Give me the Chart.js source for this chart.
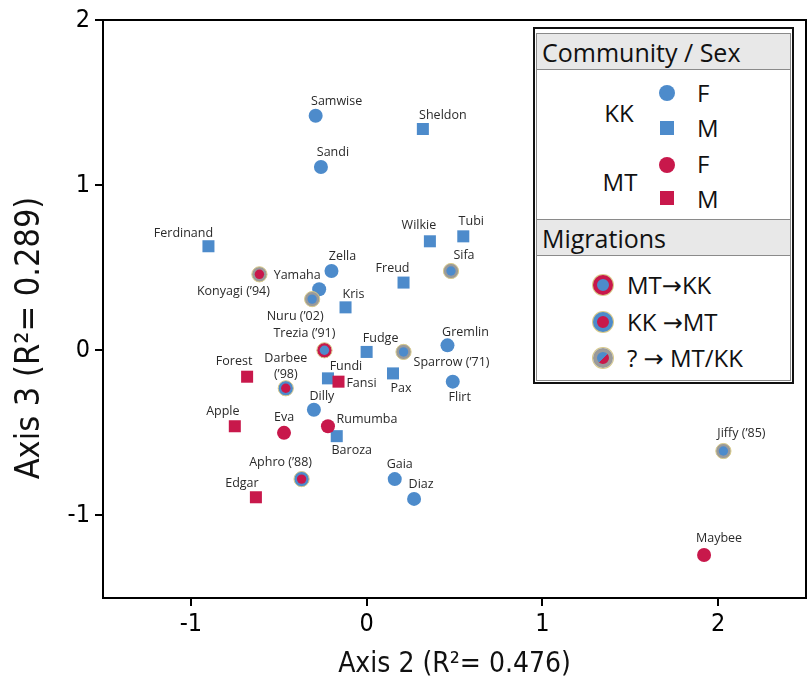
<!DOCTYPE html>
<html>
<head>
<meta charset="utf-8">
<script src="https://cdn.jsdelivr.net/npm/chart.js@4.4.1/dist/chart.umd.min.js"></script>
<style>
  html, body { margin: 0; padding: 0; background: #fff; }
  #wrap { position: relative; width: 808px; height: 689px; overflow: hidden; }
  #chart { position: absolute; left: 0; top: 0; }
  .lg { position: absolute; font-family: 'Open Sans', sans-serif; color: #111; white-space: nowrap; }
  .arr { font-family: 'DejaVu Sans', sans-serif; }
</style>
</head>
<body>
<div id="wrap">
  <canvas id="chart" width="808" height="689"></canvas>
  <div id="legend"></div>
</div>
<script>
// chimp individuals, positions on axis 2 / axis 3
const names = ["Samwise", "Sheldon", "Sandi", "Ferdinand", "Wilkie", "Tubi", "Sifa", "Zella",
  "Konyagi (’94)", "Yamaha", "Freud", "Nuru (’02)", "Kris", "Trezia (’91)", "Fudge", "Sparrow (’71)",
  "Gremlin", "Forest", "Darbee\n(’98)", "Fundi", "Fansi", "Pax", "Flirt", "Dilly", "Apple", "Eva",
  "Rumumba", "Baroza", "Aphro (’88)", "Gaia", "Diaz", "Edgar", "Jiffy (’85)", "Maybee"];
const axis2 = [-0.29, 0.32, -0.26, -0.90, 0.36, 0.55, 0.48, -0.20,
  -0.61, -0.27, 0.21, -0.31, -0.12, -0.24, 0.0, 0.21,
  0.46, -0.68, -0.46, -0.22, -0.16, 0.15, 0.49, -0.30, -0.75, -0.47,
  -0.22, -0.17, -0.37, 0.16, 0.27, -0.63, 2.03, 1.92];
const axis3 = [1.42, 1.34, 1.11, 0.63, 0.66, 0.69, 0.48, 0.48,
  0.46, 0.37, 0.41, 0.31, 0.26, 0.0, -0.01, -0.01,
  0.03, -0.16, -0.23, -0.17, -0.19, -0.14, -0.19, -0.36, -0.46, -0.50,
  -0.46, -0.52, -0.78, -0.78, -0.90, -0.89, -0.61, -1.24];
const community = ["KK", "KK", "KK", "KK", "KK", "KK", "KK", "KK",
  "MT", "KK", "KK", "KK", "KK", "KK", "KK", "KK",
  "KK", "MT", "MT", "KK", "MT", "KK", "KK", "KK", "MT", "MT",
  "MT", "KK", "MT", "KK", "KK", "MT", "KK", "MT"];
const sex = ["F", "M", "F", "M", "M", "M", "F", "F",
  "F", "F", "M", "F", "M", "F", "M", "F",
  "F", "M", "F", "M", "M", "M", "F", "F", "M", "F",
  "F", "M", "F", "F", "F", "M", "F", "F"];
const migration = ["", "", "", "", "", "", "?", "",
  "?", "", "", "?", "", "MT>KK", "", "?",
  "", "", "KK>MT", "", "", "", "", "", "", "",
  "", "", "KK>MT", "", "", "", "?", ""];

const xTicks = [-1, 0, 1, 2];
const yTicks = [-1, 0, 1, 2];
const xTitle = "Axis 2 (R²= 0.476)";
const yTitle = "Axis 3 (R²= 0.289)";

// label offsets from the point, px
const labelOffset = [[21, -14], [20, -14], [12, -15], [-25, -13], [-11, -16], [8, -15], [13, -16], [11, -15],
  [-26, 17], [-22, -14], [-11, -14], [-17, 17], [8, -13], [-20, -17], [14, -13], [48, 11],
  [18, -13], [-13, -15], [0, -22], [18, -12], [23, 2], [8, 15], [7, 16], [8, -13], [-12, -15], [0, -15],
  [39, -7], [15, 14], [-21, -17], [5, -15], [7, -14], [-14, -14], [18, -18], [15, -17]];

const BLUE = "#4d8bcb";
const RED = "#c8184b";
const GRAY = "#9a9a9a";
const RIM = "#d8ca8a";
const colorOf = { KK: BLUE, MT: RED };
const ringOf = { "MT>KK": RED, "KK>MT": BLUE, "?": GRAY };

const tickFont = "'Liberation Sans Narrow', 'DejaVu Sans Condensed', Roboto, sans-serif";

function pick(test) {
  const out = [];
  for (let i = 0; i < names.length; i++) {
    if (test(i)) out.push({ x: axis2[i], y: axis3[i] });
  }
  return out;
}

const migrants = [];
for (let i = 0; i < names.length; i++) if (migration[i]) migrants.push(i);

const datasets = [
  {
    label: "centre",
    data: migrants.map(i => ({ x: axis2[i], y: axis3[i] })),
    pointRadius: 4.7,
    pointBackgroundColor: migrants.map(i => colorOf[community[i]]),
    pointBorderWidth: 0
  },
  {
    label: "ring",
    data: migrants.map(i => ({ x: axis2[i], y: axis3[i] })),
    pointRadius: 7.6,
    pointBackgroundColor: migrants.map(i => ringOf[migration[i]]),
    pointBorderColor: RIM,
    pointBorderWidth: 1
  }
];
["MT", "KK"].forEach(c => {
  datasets.push({
    label: c + " M",
    data: pick(i => !migration[i] && community[i] === c && sex[i] === "M"),
    pointStyle: "rect",
    pointRadius: 8.5,
    pointBackgroundColor: colorOf[c],
    pointBorderWidth: 0
  });
  datasets.push({
    label: c + " F",
    data: pick(i => !migration[i] && community[i] === c && sex[i] === "F"),
    pointStyle: "circle",
    pointRadius: 7,
    pointBackgroundColor: colorOf[c],
    pointBorderWidth: 0
  });
});

const framePlugin = {
  id: "frame",
  afterDatasetsDraw(chart) {
    const { ctx, chartArea: a, scales } = chart;
    ctx.save();
    ctx.strokeStyle = "#000";
    ctx.lineWidth = 2;
    ctx.strokeRect(a.left, a.top, a.right - a.left, a.bottom - a.top);

    ctx.fillStyle = "#2a2a2a";
    ctx.font = "12.5px 'Open Sans'";
    ctx.textAlign = "center";
    ctx.textBaseline = "middle";
    for (let i = 0; i < names.length; i++) {
      const px = scales.x.getPixelForValue(axis2[i]) + labelOffset[i][0];
      const py = scales.y.getPixelForValue(axis3[i]) + labelOffset[i][1];
      const lines = names[i].split("\n");
      lines.forEach((t, k) => {
        ctx.fillText(t, px, py + (k - (lines.length - 1) / 2) * 16);
      });
    }

    // y axis title sits a bit below the middle in the original
    ctx.translate(30, 338);
    ctx.rotate(-Math.PI / 2);
    ctx.fillStyle = "#111";
    ctx.font = "34px " + tickFont;
    ctx.fillText(yTitle, 0, 0);
    ctx.restore();
  }
};

new Chart(document.getElementById("chart"), {
  type: "scatter",
  data: { datasets: datasets },
  plugins: [framePlugin],
  options: {
    responsive: false,
    animation: false,
    layout: { autoPadding: false, padding: { top: 20, right: 2, left: 0, bottom: 0 } },
    plugins: { legend: { display: false }, tooltip: { enabled: false } },
    scales: {
      x: {
        min: -1.5, max: 2.5,
        ticks: { color: "#000", padding: 3, font: { family: tickFont, size: 25 } },
        afterBuildTicks: s => { s.ticks = xTicks.map(v => ({ value: v })); },
        afterFit: s => { s.height = 91; s.paddingLeft = 0; s.paddingRight = 0; },
        grid: { drawOnChartArea: false, drawTicks: true, tickLength: 8, color: "#000", lineWidth: 2 },
        border: { display: false },
        title: { display: true, text: xTitle, color: "#111",
          font: { family: tickFont, size: 28 }, padding: { top: 0, bottom: 7 } }
      },
      y: {
        min: -1.5, max: 2,
        ticks: { color: "#000", padding: 5, font: { family: tickFont, size: 25 } },
        afterBuildTicks: s => { s.ticks = yTicks.map(v => ({ value: v })); },
        afterFit: s => { s.width = 103; s.paddingTop = 0; s.paddingBottom = 0; },
        grid: { drawOnChartArea: false, drawTicks: true, tickLength: 8, color: "#000", lineWidth: 2 },
        border: { display: false }
      }
    }
  }
});

// legend box, drawn as html
const legend = document.getElementById("legend");
function box(left, top, w, h, css) {
  const d = document.createElement("div");
  d.style.cssText = `position:absolute;left:${left}px;top:${top}px;width:${w}px;height:${h}px;box-sizing:border-box;` + (css || "");
  legend.appendChild(d);
  return d;
}
function text(t, left, cy, size, align) {
  const d = document.createElement("div");
  d.className = "lg";
  // arrows get a font that has a proper long arrow
  t.split("→").forEach((part, k) => {
    if (k > 0) {
      const a = document.createElement("span");
      a.className = "arr";
      a.textContent = "→";
      d.appendChild(a);
    }
    d.appendChild(document.createTextNode(part));
  });
  d.style.fontSize = size + "px";
  d.style.lineHeight = "30px";
  d.style.top = (cy - 15) + "px";
  if (align === "center") {
    d.style.left = (left - 50) + "px";
    d.style.width = "100px";
    d.style.textAlign = "center";
  } else {
    d.style.left = left + "px";
  }
  legend.appendChild(d);
}

box(533, 27, 261, 357, "border:2px solid #111;background:#fff;");
box(536, 33, 255, 348, "border:1px solid #8a8a8a;");
box(536, 33, 255, 37, "border:1px solid #8a8a8a;background:#e8e8e8;");
box(536, 219, 255, 37, "border:1px solid #8a8a8a;background:#e8e8e8;");
text("Community / Sex", 542, 52, 25);
text("Migrations", 542, 238, 25);

text("KK", 619, 113, 24, "center");
text("MT", 620, 182, 24, "center");
box(659, 85, 16, 16, `border-radius:50%;background:${BLUE};`);
box(660, 121, 14, 14, `background:${BLUE};`);
box(659, 157, 16, 16, `border-radius:50%;background:${RED};`);
box(660, 191, 14, 14, `background:${RED};`);
text("F", 697, 93, 24);
text("M", 697, 128, 24);
text("F", 697, 164, 24);
text("M", 697, 199, 24);

box(593, 275, 20, 20, `border-radius:50%;background:${BLUE};border:4.5px solid ${RED};box-shadow:0 0 0 1px ${RIM};`);
box(593, 312, 20, 20, `border-radius:50%;background:${RED};border:4.5px solid ${BLUE};box-shadow:0 0 0 1px ${RIM};`);
box(593, 348, 20, 20, `border-radius:50%;background:linear-gradient(135deg, ${BLUE} 50%, ${RED} 50%);border:4.5px solid ${GRAY};box-shadow:0 0 0 1px ${RIM};`);
text("MT→KK", 627, 285, 24);
text("KK →MT", 627, 322, 24);
text("? → MT/KK", 627, 358, 24);
</script>
</body>
</html>
